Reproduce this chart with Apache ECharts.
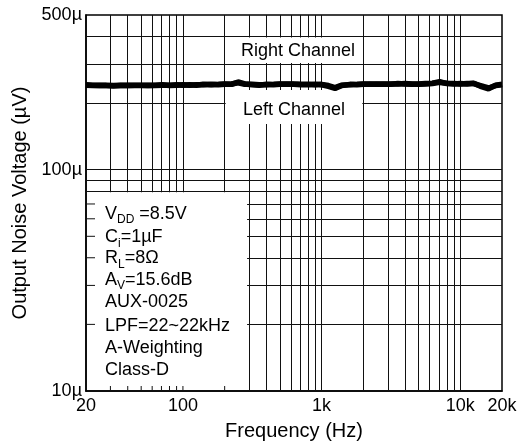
<!DOCTYPE html>
<html><head><meta charset="utf-8">
<script src="https://cdn.jsdelivr.net/npm/echarts@6/dist/echarts.min.js"></script>
<style>html,body{margin:0;padding:0;background:#fff}#c{width:524px;height:448px}</style>
</head><body><div id="c"></div>
<script>
// ---- data ----
const freqs = [20, 22.4, 25, 28, 31.5, 35.5, 40, 45, 50, 56, 63, 71, 80, 90, 100, 112, 125, 140, 160, 180,
  200, 224, 250, 280, 315, 355, 400, 450, 500, 560, 630, 710, 800, 900, 1000, 1120, 1250, 1400, 1600, 1800,
  2000, 2240, 2500, 2800, 3150, 3550, 4000, 4500, 5000, 5600, 6300, 7100, 8000, 9000, 10000, 11200, 12500,
  14000, 16000, 18000, 20000];
const leftChannel = [241, 240, 241, 240, 239, 240, 241, 240, 240, 241, 240, 241, 241, 242, 241, 242, 241, 243, 242, 243,
  244, 243, 249, 244, 242, 241, 243, 242, 243, 244, 243, 242, 242, 243, 242, 238, 233, 240, 243, 242,
  243, 244, 243, 244, 243, 245, 244, 243, 244, 245, 246, 250, 245, 244, 245, 244, 246,
  238, 232, 241, 243];
const rightChannel = [242, 241, 240, 241, 240, 241, 240, 241, 241, 240, 241, 242, 240, 241, 242, 241, 242, 242, 243, 242,
  243, 244, 247, 243, 243, 242, 242, 243, 244, 243, 244, 243, 243, 242, 243, 240, 235, 241, 242, 243,
  244, 243, 244, 243, 244, 244, 245, 244, 243, 244, 245, 248, 246, 245, 244, 245, 245,
  240, 234, 240, 242];
const xGridValues = [30, 40, 50, 60, 70, 80, 90, 100, 200, 300, 400, 500, 600, 700, 800, 900, 1000,
  2000, 3000, 4000, 5000, 6000, 7000, 8000, 9000, 10000];
const yGridValues = [20, 30, 40, 50, 60, 70, 80, 90, 100, 200, 300, 400];
const paramLines = ['{t|V}{s|DD}{t| =8.5V}', '{t|C}{s|i}{t|=1µF}', '{t|R}{s|L}{t|=8Ω}', '{t|A}{s|V}{t|=15.6dB}',
  '{t|AUX-0025}', '{t|LPF=22~22kHz}', '{t|A-Weighting}', '{t|Class-D}'];
const paramLineY = [214, 237.5, 258.5, 280, 302, 326, 348.5, 370];
const xAxisTitle = 'Frequency (Hz)';
const yAxisTitle = 'Output Noise Voltage (µV)';

const font = "'Liberation Sans', Arial, sans-serif";
const chart = echarts.init(document.getElementById('c'));
chart.setOption({
  animation: false,
  grid: {left: 86, right: 22, top: 15, bottom: 57, show: true, borderColor: '#000', borderWidth: 1.5},
  xAxis: {
    type: 'log', logBase: 10, min: 20, max: 20000,
    name: xAxisTitle, nameLocation: 'middle', nameGap: 30,
    nameTextStyle: {fontFamily: font, fontSize: 20, color: '#000'},
    axisLine: {show: true, lineStyle: {color: '#000', width: 1.5}},
    axisTick: {show: false}, splitLine: {show: false},
    axisLabel: {fontFamily: font, fontSize: 18, color: '#000', margin: 6, showMinLabel: true, showMaxLabel: true, hideOverlap: false,
      formatter: v => { const r = Math.round(v); return r >= 1000 ? (r / 1000) + 'k' : String(r); }}
  },
  yAxis: {
    type: 'log', logBase: 10, min: 10, max: 500,
    name: yAxisTitle, nameLocation: 'middle', nameGap: 53,
    nameTextStyle: {fontFamily: font, fontSize: 20, color: '#000'},
    axisLine: {show: true, lineStyle: {color: '#000', width: 1.5}},
    axisTick: {show: false}, splitLine: {show: false},
    axisLabel: {fontFamily: font, fontSize: 18, color: '#000', margin: 4, showMinLabel: true, showMaxLabel: true, hideOverlap: false,
      formatter: v => Math.round(v) + 'µ'}
  },
  series: [
    {type: 'line', z: 1, silent: true, symbol: 'none', data: [[20, 10]], lineStyle: {opacity: 0},
      markLine: {z: 1, silent: true, symbol: ['none', 'none'], label: {show: false}, animation: false,
        lineStyle: {type: 'solid', color: '#111', width: 1},
        data: xGridValues.map(v => ({xAxis: v})).concat(yGridValues.map(v => ({yAxis: v})))}},
    {name: 'Left Channel', type: 'line', z: 10, symbol: 'none', data: freqs.map((f, i) => [f, leftChannel[i]]),
      lineStyle: {color: '#000', width: 5.5}},
    {name: 'Right Channel', type: 'line', z: 10, symbol: 'none', data: freqs.map((f, i) => [f, rightChannel[i]]),
      lineStyle: {color: '#000', width: 5.5}}
  ]
});

const px = (x, y) => chart.convertToPixel({gridIndex: 0}, [x, y]);
const g = [];
const x0 = px(20, 10)[0], y0 = px(20, 10)[1];
// parameter box
const boxRight = px(300, 10)[0] - 2, boxTop = px(20, 80)[1] + 1;
g.push({type: 'rect', z: 3, silent: true, shape: {x: x0 + 1, y: boxTop, width: boxRight - x0 - 1, height: y0 - boxTop - 1}, style: {fill: '#fff'}});
[20, 30, 40, 50, 60, 70].forEach(v => {
  const y = px(20, v)[1];
  g.push({type: 'line', z: 4, silent: true, shape: {x1: x0, y1: y, x2: x0 + 9, y2: y}, style: {stroke: '#111', lineWidth: 1}});
});
[30, 40, 50, 60, 70, 80, 90, 100, 200].forEach(f => {
  const x = px(f, 10)[0];
  g.push({type: 'line', z: 4, silent: true, shape: {x1: x, y1: y0, x2: x, y2: y0 - 5}, style: {stroke: '#111', lineWidth: 1}});
});
paramLines.forEach((t, i) => {
  g.push({type: 'text', z: 5, silent: true, x: 105, y: paramLineY[i], style: {
    text: t, verticalAlign: 'middle', align: 'left',
    rich: {t: {fontFamily: font, fontSize: 18, fill: '#000'},
           s: {fontFamily: font, fontSize: 12, fill: '#000', padding: [12, 0, 0, 0]}}}});
});
// channel label boxes
const bx1 = px(200, 10)[0] + 1, bx2 = px(2000, 10)[0] - 1;
const ry1 = px(20, 400)[1] + 1, ry2 = px(20, 300)[1] - 1;
g.push({type: 'rect', z: 3, silent: true, shape: {x: bx1, y: ry1, width: bx2 - bx1, height: ry2 - ry1}, style: {fill: '#fff'}});
g.push({type: 'rect', z: 3, silent: true, shape: {x: bx1, y: 90, width: bx2 - bx1, height: 34}, style: {fill: '#fff'}});
g.push({type: 'text', z: 5, silent: true, x: (bx1 + bx2) / 2 + 4, y: (ry1 + ry2) / 2 + 1, style: {text: 'Right Channel', font: '18px ' + font, fill: '#000', align: 'center', verticalAlign: 'middle'}});
g.push({type: 'text', z: 5, silent: true, x: (bx1 + bx2) / 2, y: 110, style: {text: 'Left Channel', font: '18px ' + font, fill: '#000', align: 'center', verticalAlign: 'middle'}});
chart.setOption({graphic: g});
</script></body></html>
